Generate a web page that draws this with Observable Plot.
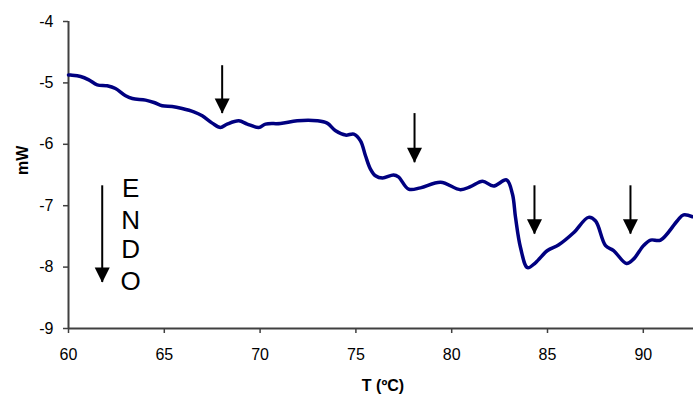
<!DOCTYPE html>
<html>
<head>
<meta charset="utf-8">
<script src="https://cdn.jsdelivr.net/npm/d3@7"></script>
<script src="https://cdn.jsdelivr.net/npm/@observablehq/plot@0.6"></script>
<style>
  html, body { margin: 0; padding: 0; background: #fff; }
  #chart svg { display: block; }
  #chart g[aria-label$="tick label"] { font-size: 16px; }
</style>
</head>
<body>
<div id="chart"></div>
<script>
// Temperature (ºC) and heat flow (mW)
const temps = [60.00, 60.10, 60.63, 61.06, 61.50, 62.02, 62.45, 62.98, 63.33, 64.02, 64.46, 64.89, 65.41, 65.93, 66.54, 66.98, 67.50, 67.93, 68.28, 68.89, 69.33, 69.93, 70.28, 71.06, 71.94, 72.98, 73.50, 73.94, 74.46, 74.89, 75.24, 75.50, 75.76, 76.02, 76.39, 76.96, 77.22, 77.75, 78.37, 79.42, 80.46, 80.98, 81.61, 82.18, 82.86, 83.17, 83.33, 83.59, 83.96, 84.37, 85.00, 85.57, 86.36, 87.14, 87.51, 88.03, 88.45, 89.12, 89.49, 90.01, 90.38, 90.90, 91.79, 92.10, 92.57];
const mW = [-4.87, -4.873, -4.896, -4.950, -5.031, -5.047, -5.091, -5.210, -5.254, -5.280, -5.319, -5.373, -5.384, -5.417, -5.471, -5.536, -5.655, -5.726, -5.671, -5.617, -5.671, -5.726, -5.671, -5.661, -5.617, -5.617, -5.655, -5.780, -5.850, -5.834, -5.943, -6.187, -6.404, -6.513, -6.55, -6.50, -6.53, -6.73, -6.71, -6.62, -6.74, -6.69, -6.60, -6.68, -6.58, -6.81, -7.19, -7.68, -8.01, -7.93, -7.73, -7.64, -7.44, -7.19, -7.25, -7.65, -7.73, -7.94, -7.87, -7.65, -7.56, -7.56, -7.24, -7.15, -7.18];

// Transition arrows
const arrowT = [68.02, 78.06, 84.32, 89.33];
const arrowTop = [-4.72, -5.50, -6.676, -6.676];
const arrowTip = [-5.50, -6.30, -7.463, -7.463];

// ENDO indicator
const endoT = [61.76];
const endoTop = [-6.676];
const endoTip = [-8.25];
const endoLetters = ["E", "N", "D", "O"];
const endoLetterT = 63.24;
const endoLetterY = [-6.721, -7.246, -7.719, -8.239];

// Axis ticks
const xTicks = [60, 65, 70, 75, 80, 85, 90];
const yTicks = [-9, -8, -7, -6, -5, -4];

const curve = temps.map((t, i) => ({t, v: mW[i]}));
const arrows = arrowT.map((t, i) => ({t, top: arrowTop[i], tip: arrowTip[i]}));
const endo = endoT.map((t, i) => ({t, top: endoTop[i], tip: endoTip[i]}));
const letters = endoLetters.map((s, i) => ({s, t: endoLetterT, v: endoLetterY[i]}));

const headSymbol = {
  draw(context) {
    context.moveTo(0, 0);
    context.lineTo(-7.5, -15);
    context.lineTo(7.5, -15);
    context.closePath();
  }
};

const axisColor = "#404040";

const chart = Plot.plot({
  width: 693,
  height: 394,
  marginLeft: 68,
  marginRight: 0,
  marginTop: 21,
  marginBottom: 66,
  style: {fontFamily: "'Liberation Sans', Arial, sans-serif", fontSize: "16px", background: "#fff", color: "#000"},
  x: {domain: [60, 92.62]},
  y: {domain: [-9, -4]},
  marks: [
    Plot.axisX({ticks: xTicks, tickFormat: d => String(d), tickSize: 5, tickPadding: 15, stroke: axisColor, strokeWidth: 1.5, fill: "#000", fontSize: 16, label: null}),
    Plot.axisY({ticks: yTicks, tickFormat: d => String(d), tickSize: 5, tickPadding: 10, stroke: axisColor, strokeWidth: 1.5, fill: "#000", fontSize: 16, label: null}),
    Plot.ruleY([-9], {stroke: axisColor, strokeWidth: 2}),
    Plot.ruleX([60], {stroke: axisColor, strokeWidth: 2}),
    Plot.line(curve, {x: "t", y: "v", stroke: "#000080", strokeWidth: 3.5, curve: "catmull-rom"}),
    Plot.ruleX(arrows, {x: "t", y1: "top", y2: "tip", stroke: "#000", strokeWidth: 2}),
    Plot.dot(arrows, {x: "t", y: "tip", symbol: headSymbol, r: 5, fill: "#000", stroke: "none"}),
    Plot.ruleX(endo, {x: "t", y1: "top", y2: "tip", stroke: "#000", strokeWidth: 2}),
    Plot.dot(endo, {x: "t", y: "tip", symbol: headSymbol, r: 5, fill: "#000", stroke: "none"}),
    Plot.text(letters, {x: "t", y: "v", text: "s", fontSize: 26, fill: "#000", textAnchor: "middle", lineAnchor: "middle"}),
    Plot.text(["T (ºC)"], {frameAnchor: "bottom", dx: 2, dy: 57, fontSize: 16, fontWeight: "bold", fill: "#000", lineAnchor: "middle"}),
    Plot.text(["mW"], {frameAnchor: "left", dx: -46, dy: 0, rotate: -90, fontSize: 16, fontWeight: "bold", fill: "#000", lineAnchor: "middle"})
  ]
});
document.getElementById("chart").appendChild(chart);
</script>
</body>
</html>
